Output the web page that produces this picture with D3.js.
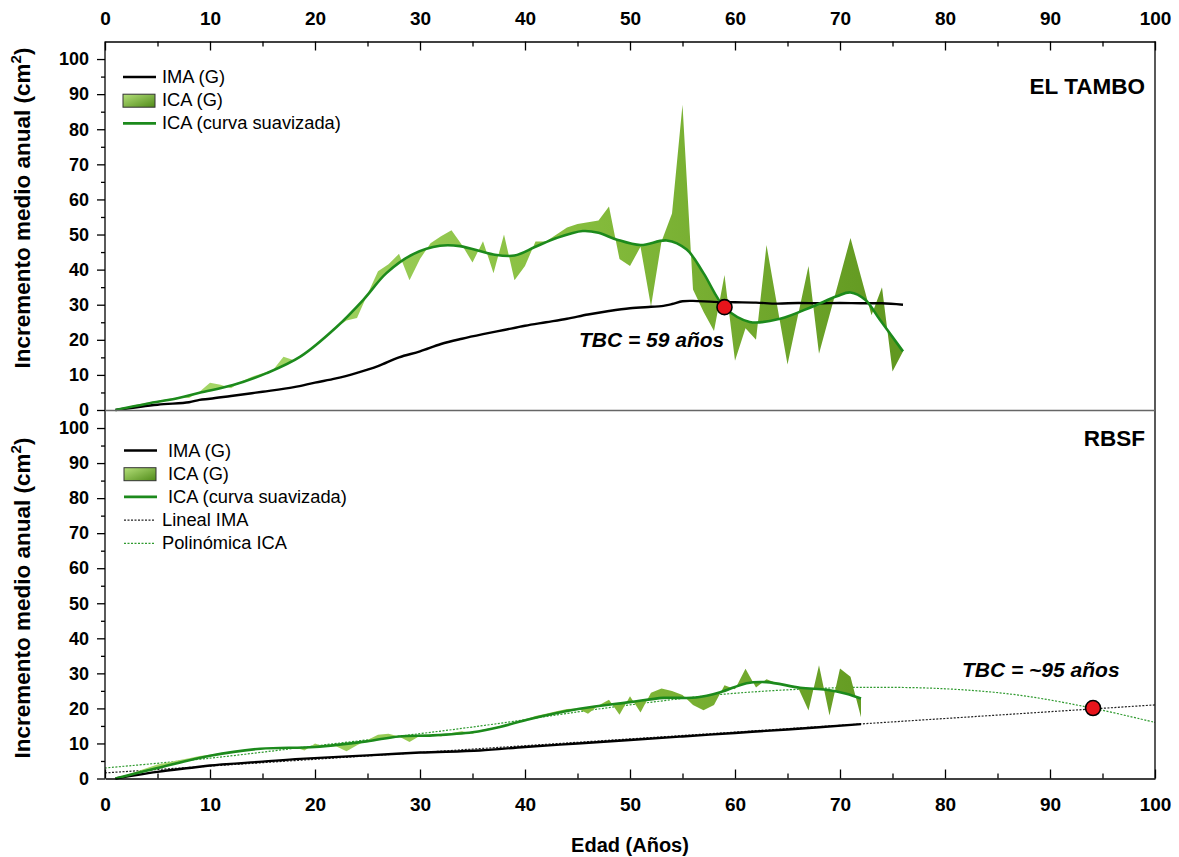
<!DOCTYPE html>
<html>
<head>
<meta charset="utf-8">
<script src="https://cdn.jsdelivr.net/npm/d3@7"></script>
<style>
  body { margin: 0; background: #fff; }
  text { font-family: "Liberation Sans", Arial, sans-serif; }
</style>
</head>
<body>
<div id="chart"></div>
<script>
// ---- data ----
// EL TAMBO: raw ICA (G) per year of age, 1..76
const tamboAges = d3.range(1, 77);
const tamboIca = [0, 0.8, 1.5, 2.1, 2.6, 3.1, 3.6, 3.4, 5.2, 7.8,
  7.2, 6.2, 8.2, 9.5, 10.5, 11.4, 15.2, 14.2, 16, 18.5,
  20.5, 23.5, 25.5, 26.2, 33, 39.5, 41.5, 44.5, 37, 43,
  47.5, 49.5, 51.2, 47, 42, 48.1, 39, 50, 37, 41,
  48, 48, 50, 52, 53, 53.5, 54, 58, 43, 41,
  46.5, 29.5, 48, 56, 87, 34.3, 28, 22.5, 38.5, 14,
  23.3, 20, 47, 30, 13, 27, 41, 16, 27, 38,
  49, 38, 27, 35, 11, 16.7];
// smoothed ICA curve (knots)
const tamboSmoothAge = [1, 4, 7, 9, 12.2, 15.4, 18.6, 22, 24.6, 26.8, 29.4, 31.9, 33.8, 37, 39, 41, 43, 45.5, 47, 48.7, 51, 53.5, 55.4, 57, 59, 61.4, 64.3, 67.4, 69.7, 71, 72.4, 73.8, 76];
const tamboSmooth = [0, 1.8, 3.4, 4.9, 7.1, 10.5, 15.2, 23.5, 31.4, 39, 44.5, 46.8, 46.7, 44.3, 44, 46.5, 49, 51, 50.5, 48.6, 47, 48.3, 45.7, 39, 29.3, 25.1, 26, 29.5, 32.4, 33.5, 31.4, 25.7, 16.7];
// IMA (G)
const tamboImaAge = [1, 5, 8, 9, 10, 12, 15, 18, 20, 22, 24, 26, 28, 30, 32, 34, 36, 38, 40, 42, 44, 46, 48, 50, 52, 53, 54, 55, 56, 58, 60, 62, 64, 66, 68, 70, 72, 74, 76];
const tamboIma = [0, 1.5, 2.2, 2.9, 3.2, 4, 5.2, 6.5, 7.8, 9, 10.6, 12.5, 15, 16.7, 18.8, 20.3, 21.6, 22.8, 24, 25, 26, 27.2, 28.2, 29, 29.4, 29.6, 30.2, 31, 31.1, 30.8, 30.7, 30.6, 30.3, 30.5, 30.4, 30.5, 30.4, 30.4, 30];
const tamboTbc = [59, 29.3];

// RBSF
const rbsfAges = d3.range(1, 73);
const rbsfIca = [0, 1, 2, 3, 4, 4.6, 5.2, 5.8, 6.4, 6.8,
  7.3, 7.7, 8, 8.4, 8.6, 8.6, 8.7, 9, 8, 10,
  9, 9.2, 7.8, 9.5, 11, 12.5, 12.8, 12, 10.4, 12.2,
  12.5, 12, 13, 13.5, 12.8, 14, 14.5, 15.3, 16, 16.8,
  17.8, 18.5, 19.2, 19.8, 20, 18.5, 20.8, 22.5, 18.2, 23.5,
  18.8, 24.5, 25.7, 25, 23.8, 21, 19.5, 21, 26.6, 25.5,
  31.3, 26, 28.3, 27.2, 26.5, 26, 19.4, 32.3, 18, 31.4,
  29, 17.5];
const rbsfSmoothAge = [1, 5, 10, 14.8, 20, 24.9, 28, 31.2, 35, 37.6, 40.5, 45.2, 50, 53.2, 56.3, 58.6, 61.1, 63, 66.2, 68.7, 70.6, 72];
const rbsfSmooth = [0, 3, 6.5, 8.5, 9, 10.6, 12, 12.3, 13.2, 14.7, 17, 19.9, 21.8, 23, 23.1, 24.6, 27.2, 27.5, 25.9, 25.3, 24.2, 22.8];
const rbsfImaAge = [1, 3, 5, 8, 10, 15, 18.6, 25, 30, 35.7, 40, 45, 50, 55, 60, 65, 72];
const rbsfIma = [0, 1, 1.9, 3, 3.7, 4.8, 5.6, 6.6, 7.4, 8, 9, 10, 11, 12, 13, 14, 15.5];
const linealAge = [0, 100];
const linealIma = [1.6, 21];
const polyAge = [0, 10, 20, 30, 37, 45, 50, 58, 65, 72, 80, 87, 94, 100];
const polyIca = [3, 5.8, 9.3, 12.8, 15.5, 19, 21, 23.8, 25.3, 26, 25.6, 23.8, 20.1, 16];
const rbsfTbc = [94.1, 20.1];

const xMajor = d3.range(0, 101, 10);
const xMinor = d3.range(5, 100, 10);
const yMajor = d3.range(0, 101, 10);
const yMinor = d3.range(5, 100, 10);

// ---- layout ----
const W = 1179, H = 857;
const svg = d3.select("#chart").append("svg")
  .attr("width", W).attr("height", H);

const x = d3.scaleLinear().domain([0, 100]).range([105, 1155]);
const yTop = d3.scaleLinear().domain([0, 105]).range([410, 41.5]);
const yBot = d3.scaleLinear().domain([0, 105]).range([778.5, 410.5]);

const zip = (a, b) => a.map((v, i) => [v, b[i]]);

// gradient for the ICA band
const defs = svg.append("defs");
const grad = defs.append("linearGradient").attr("id", "icaFill")
  .attr("gradientUnits", "userSpaceOnUse")
  .attr("x1", x(15)).attr("x2", x(75)).attr("y1", 0).attr("y2", 0);
grad.append("stop").attr("offset", "0%").attr("stop-color", "#a4d566");
grad.append("stop").attr("offset", "50%").attr("stop-color", "#86bd3d");
grad.append("stop").attr("offset", "100%").attr("stop-color", "#619820");
const grad2 = defs.append("linearGradient").attr("id", "swatch")
  .attr("x1", 0).attr("y1", 0).attr("x2", 1).attr("y2", 1);
grad2.append("stop").attr("offset", "0%").attr("stop-color", "#b5e07a");
grad2.append("stop").attr("offset", "100%").attr("stop-color", "#4f8a18");

function panel(y, d) {
  const g = svg.append("g");
  const raw = zip(d.ages, d.ica);
  const smooth = zip(d.smoothAge, d.smooth);
  const rawLine = d3.line().x(p => x(p[0])).y(p => y(p[1]));
  const smLine = d3.line().x(p => x(p[0])).y(p => y(p[1])).curve(d3.curveCatmullRom.alpha(0.5));

  // dotted trend lines
  if (d.lineal) {
    g.append("path").attr("d", rawLine(d.lineal))
      .attr("fill", "none").attr("stroke", "#222").attr("stroke-width", 1.2)
      .attr("stroke-dasharray", "2,1.5");
    g.append("path").attr("d", smLine(d.poly))
      .attr("fill", "none").attr("stroke", "#2f9a2f").attr("stroke-width", 1.2)
      .attr("stroke-dasharray", "2,1.5");
  }

  // band between raw ICA and smoothed curve
  const back = smLine(smooth.slice().reverse()).replace(/^M/, "L");
  g.append("path")
    .attr("d", rawLine(raw) + back + "Z")
    .attr("fill", "url(#icaFill)").attr("stroke", "none");

  // IMA
  g.append("path").attr("d", smLine(zip(d.imaAge, d.ima)))
    .attr("fill", "none").attr("stroke", "#000").attr("stroke-width", 2.4);

  // smoothed ICA
  g.append("path").attr("d", smLine(smooth))
    .attr("fill", "none").attr("stroke", "#1c8a1c").attr("stroke-width", 2.6);

  // TBC point
  g.append("circle").attr("cx", x(d.tbc[0])).attr("cy", y(d.tbc[1])).attr("r", 7.5)
    .attr("fill", "#e8141b").attr("stroke", "#000").attr("stroke-width", 1.6);

  // y axis
  g.append("g").attr("class", "yax").attr("transform", "translate(105,0)")
    .call(d3.axisLeft(y).tickValues(yMajor).tickSizeInner(8).tickSizeOuter(0).tickPadding(8))
    .call(a => a.select(".domain").remove());
  g.append("g").attr("transform", "translate(105,0)")
    .call(d3.axisLeft(y).tickValues(yMinor).tickSizeInner(4).tickSizeOuter(0).tickFormat(""))
    .call(a => a.select(".domain").remove());
  return g;
}

panel(yTop, { ages: tamboAges, ica: tamboIca, smoothAge: tamboSmoothAge, smooth: tamboSmooth,
  imaAge: tamboImaAge, ima: tamboIma, tbc: tamboTbc });
panel(yBot, { ages: rbsfAges, ica: rbsfIca, smoothAge: rbsfSmoothAge, smooth: rbsfSmooth,
  imaAge: rbsfImaAge, ima: rbsfIma, tbc: rbsfTbc,
  lineal: zip(linealAge, linealIma), poly: zip(polyAge, polyIca) });

// x axes (top and bottom), ticks pointing inward
const axTop = svg.append("g").attr("transform", "translate(0,41.5)");
axTop.call(d3.axisTop(x).tickValues(xMajor).tickSizeInner(-9).tickSizeOuter(0).tickPadding(17));
axTop.append("g").call(d3.axisTop(x).tickValues(xMinor).tickSizeInner(-5).tickSizeOuter(0).tickFormat(""))
  .call(a => a.select(".domain").remove());
const axBot = svg.append("g").attr("transform", "translate(0,778.5)");
axBot.call(d3.axisBottom(x).tickValues(xMajor).tickSizeInner(-9).tickSizeOuter(0).tickPadding(19));
axBot.append("g").call(d3.axisBottom(x).tickValues(xMinor).tickSizeInner(-5).tickSizeOuter(0).tickFormat(""))
  .call(a => a.select(".domain").remove());
svg.selectAll(".tick text").attr("font-size", 19).attr("font-weight", "bold").attr("fill", "#000");
svg.selectAll(".yax .tick text").attr("font-size", 18);
svg.selectAll(".tick line").attr("stroke", "#000").attr("stroke-width", 1.3);
svg.selectAll(".domain").attr("stroke", "#000").attr("stroke-width", 1.3);

// frame: left, right, separator
svg.append("line").attr("x1", 105).attr("x2", 105).attr("y1", 41.5).attr("y2", 778.5)
  .attr("stroke", "#000").attr("stroke-width", 1.3);
svg.append("line").attr("x1", 1155).attr("x2", 1155).attr("y1", 41.5).attr("y2", 778.5)
  .attr("stroke", "#000").attr("stroke-width", 1.3);
svg.append("line").attr("x1", 105).attr("x2", 1155).attr("y1", 410.5).attr("y2", 410.5)
  .attr("stroke", "#666").attr("stroke-width", 1.3);

// axis titles
svg.append("text").attr("x", 630).attr("y", 852).attr("text-anchor", "middle")
  .attr("font-size", 20).attr("font-weight", "bold").text("Edad (Años)");
[[yTop, 208], [yBot, 598]].forEach(([y, cy]) => {
  const t = svg.append("text").attr("transform", `translate(30,${cy}) rotate(-90)`)
    .attr("text-anchor", "middle").attr("font-size", 22.5).attr("font-weight", "bold");
  t.append("tspan").text("Incremento medio anual (cm");
  t.append("tspan").attr("dy", -9).attr("font-size", 15).text("2");
  t.append("tspan").attr("dy", 9).text(")");
});

// panel labels
svg.append("text").attr("x", 1145).attr("y", 94).attr("text-anchor", "end")
  .attr("font-size", 22.5).attr("font-weight", "bold").text("EL TAMBO");
svg.append("text").attr("x", 1145).attr("y", 446).attr("text-anchor", "end")
  .attr("font-size", 22.5).attr("font-weight", "bold").text("RBSF");
svg.append("text").attr("x", 579).attr("y", 347)
  .attr("font-size", 21).attr("font-weight", "bold").attr("font-style", "italic").text("TBC = 59 años");
svg.append("text").attr("x", 962).attr("y", 677)
  .attr("font-size", 21).attr("font-weight", "bold").attr("font-style", "italic").text("TBC = ~95 años");

// legends
function legend(x0, y0, tx, items) {
  items.forEach((it, i) => {
    const yy = y0 + i * 23.2;
    if (it.type === "swatch") {
      svg.append("rect").attr("x", x0).attr("y", yy - 6).attr("width", 32).attr("height", 13)
        .attr("fill", "url(#swatch)").attr("stroke", "#333").attr("stroke-width", 1);
    } else {
      svg.append("line").attr("x1", x0).attr("x2", x0 + (it.dash ? 31 : 33)).attr("y1", yy).attr("y2", yy)
        .attr("stroke", it.color).attr("stroke-width", it.dash ? 1.2 : 2.6)
        .attr("stroke-dasharray", it.dash ? "2,1.5" : null);
    }
    svg.append("text").attr("x", it.dash ? tx - 6 : tx).attr("y", yy + 6)
      .attr("font-size", 18.3).text(it.label);
  });
}
legend(123, 77, 162, [
  { label: "IMA (G)", color: "#000" },
  { label: "ICA (G)", type: "swatch" },
  { label: "ICA (curva suavizada)", color: "#1c8a1c" }
]);
legend(124, 450.5, 168, [
  { label: "IMA (G)", color: "#000" },
  { label: "ICA (G)", type: "swatch" },
  { label: "ICA (curva suavizada)", color: "#1c8a1c" },
  { label: "Lineal IMA", color: "#222", dash: true },
  { label: "Polinómica ICA", color: "#2f9a2f", dash: true }
]);
</script>
</body>
</html>
